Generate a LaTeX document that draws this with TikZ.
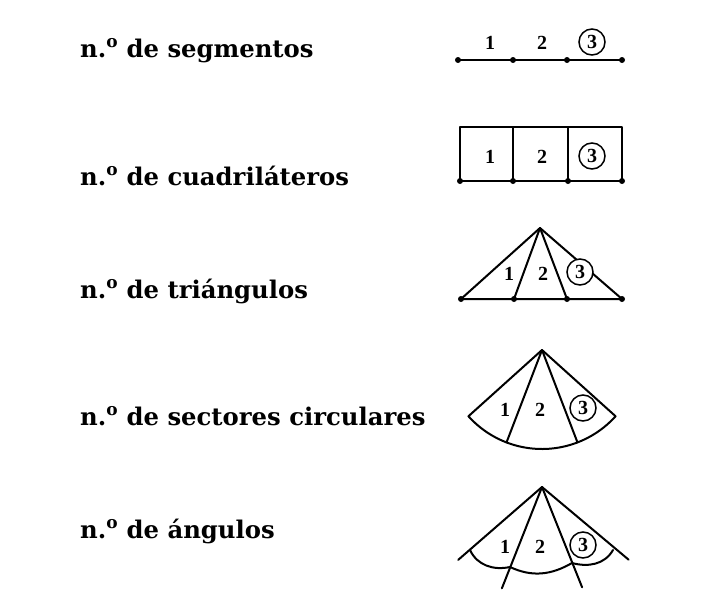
\documentclass[tikz,border=0pt]{standalone}
\usepackage{fontspec}
\setmainfont{DejaVu Serif}
\newfontfamily\numfont{Liberation Serif}
\usetikzlibrary{calc}
\begin{document}
\begin{tikzpicture}[x=1pt,y=1pt,
  lbl/.style={anchor=base west, font=\bfseries\fontsize{24.3}{28}\selectfont, inner sep=0},
  num/.style={font=\numfont\bfseries\fontsize{20}{22}\selectfont, inner sep=0},
  circnum/.style={num, circle, draw, line width=1.5pt, minimum size=26pt, fill=white},
  fig/.style={line width=2pt, line join=round, line cap=round},
  pt/.style={circle, fill, inner sep=0, minimum size=6pt}]
\useasboundingbox (0,0) rectangle (701,-608);

% labels
\node[lbl] (t1) at (80,-57) {n.\textsuperscript{o} de segmentos};
\node[lbl] (t2) at (80,-185) {n.\textsuperscript{o} de cuadriláteros};
\node[lbl] (t3) at (80,-298) {n.\textsuperscript{o} de triángulos};
\node[lbl] (t4) at (80,-425) {n.\textsuperscript{o} de sectores circulares};
\node[lbl] (t5) at (80,-538) {n.\textsuperscript{o} de ángulos};

% segments
\node[pt] (s0) at (458,-60) {};
\node[pt] (s1) at (513,-60) {};
\node[pt] (s2) at (567,-60) {};
\node[pt] (s3) at (622,-60) {};
\draw[fig] (s0.center) -- (s3.center);
\node[num] (sn1) at (490,-43) {1};
\node[num] (sn2) at (542,-43) {2};
\node[circnum] (sn3) at (592,-42) {3};

% quadrilaterals
\node[pt] (q0) at (460,-181) {};
\node[pt] (q1) at (513,-181) {};
\node[pt] (q2) at (568,-181) {};
\node[pt] (q3) at (622,-181) {};
\coordinate (q0t) at (460,-127);
\coordinate (q1t) at (513,-127);
\coordinate (q2t) at (568,-127);
\coordinate (q3t) at (622,-127);
\draw[fig] (q0.center) -- (q3.center) -- (q3t) -- (q0t) -- cycle;
\draw[fig] (q1.center) -- (q1t);
\draw[fig] (q2.center) -- (q2t);
\node[num] (qn1) at (490,-157) {1};
\node[num] (qn2) at (542,-157) {2};
\node[circnum] (qn3) at (592,-156) {3};

% triangles
\coordinate (ta) at (540,-228);
\node[pt] (t0) at (461,-299) {};
\node[pt] (tb1) at (514,-299) {};
\node[pt] (tb2) at (567,-299) {};
\node[pt] (tb3) at (622,-299) {};
\draw[fig] (t0.center) -- (tb3.center) -- (ta) -- cycle;
\draw[fig] (ta) -- (tb1.center);
\draw[fig] (ta) -- (tb2.center);
\node[num] (tn1) at (509,-274) {1};
\node[num] (tn2) at (543,-274) {2};
\node[circnum] (tn3) at (580,-272) {3};

% circular sectors
\coordinate (ca) at (542,-350);
\coordinate (cl) at ($(ca)+(222:99)$);
\coordinate (ci1) at ($(ca)+(249:99)$);
\coordinate (ci2) at ($(ca)+(291:99)$);
\draw[fig] (ca) -- (cl) arc[start angle=222, end angle=318, radius=99pt] -- cycle;
\draw[fig] (ca) -- (ci1);
\draw[fig] (ca) -- (ci2);
\node[num] (cn1) at (505,-410) {1};
\node[num] (cn2) at (540,-410) {2};
\node[circnum] (cn3) at (583,-408) {3};

% angles
\coordinate (aa) at (542,-487);
\coordinate (ar1) at ($(aa)+(221:111)$);
\coordinate (ar2) at ($(aa)+(248.4:109)$);
\coordinate (ar3) at ($(aa)+(291.8:108)$);
\coordinate (ar4) at ($(aa)+(320:113)$);
\draw[fig] (aa) -- (ar1);
\draw[fig] (aa) -- (ar2);
\draw[fig] (aa) -- (ar3);
\draw[fig] (aa) -- (ar4);
\coordinate (m1) at (470,-550);
\coordinate (m2) at (510,-567);
\coordinate (m3) at (572,-563);
\coordinate (m4) at (613,-550);
\draw[fig] (m1) to[out=-65, in=192] (m2);
\draw[fig] (m2) to[out=-25, in=-150] (m3);
\draw[fig] (m3) to[out=-15, in=240] (m4);
\node[num] (an1) at (505,-547) {1};
\node[num] (an2) at (540,-547) {2};
\node[circnum] (an3) at (583,-545) {3};
\end{tikzpicture}
\end{document}
